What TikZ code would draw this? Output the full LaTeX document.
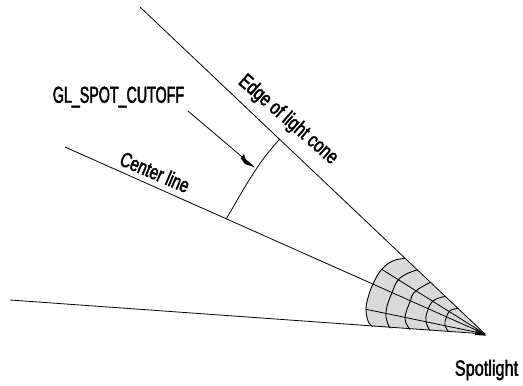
\documentclass[tikz,border=0pt]{standalone}
\usepackage{fontspec}
\newfontfamily\fontcut{Liberation Sans}[FakeStretch=0.62,FakeBold=2]
\newfontfamily\fontedge{Liberation Sans}[FakeStretch=0.74,FakeBold=2]
\newfontfamily\fontcenter{Liberation Sans}[FakeStretch=0.72,FakeBold=2]
\newfontfamily\fontspot{Liberation Sans}[FakeStretch=0.74,FakeBold=2]
\tikzset{
  ray/.style={draw=black,line width=0.8pt},
  web/.style={draw=black,line width=0.9pt},
  lbl/.style={inner sep=0pt}
}
\begin{document}
\begin{tikzpicture}[x=1pt,y=-1pt]
\useasboundingbox (0,0) rectangle (523,386);
\fill[white] (0,0) rectangle (523,386);
\coordinate (apex) at (485,334);
\coordinate (edgeEnd) at (140,7);
\coordinate (centerEnd) at (65,147);
\coordinate (lowerEnd) at (10,300);
\coordinate (cutA) at (226.5,218.5);
\coordinate (cutB) at (279.5,139.5);
\coordinate (arrowStart) at (188,111);
\coordinate (arrowTip) at (254,167);
\fill[gray!30] plot[smooth,tension=0.7] coordinates {(405,258.5) (393.3,260.7) (381.7,269.3) (373.3,283.3) (368.3,296.7) (366,309.3) (368.3,321.7) (372.7,326.5)} -- (apex) -- cycle;
\draw[web] plot[smooth,tension=0.7] coordinates {(405,258.5) (393.3,260.7) (381.7,269.3) (373.3,283.3) (368.3,296.7) (366,309.3) (368.3,321.7) (372.7,326.5)};
\draw[web] plot[smooth,tension=0.7] coordinates {(416.7,270) (400,278) (391.7,293.3) (386,311.7) (388.3,325) (391,328)};
\draw[web] plot[smooth,tension=0.7] coordinates {(430,282.5) (415,291.7) (410,301.7) (405,318.3) (410,329.5)};
\draw[web] plot[smooth,tension=0.7] coordinates {(445,296.5) (433.3,300.7) (427.3,311.7) (426,321.7) (430,330.5)};
\draw[web] plot[smooth,tension=0.7] coordinates {(458.3,308.5) (450,310.7) (446,318.3) (445,325) (448.3,331.5)};
\coordinate (rayA) at (381.7,269.3);
\coordinate (rayB) at (366,309.3);
\draw[ray] (rayA) -- (apex);
\draw[ray] (rayB) -- (apex);
\fill (476,329.3) -- (486.7,335.7) -- (475,335) -- cycle;
\draw[ray] (edgeEnd) -- (apex);
\draw[ray] (centerEnd) -- (apex);
\draw[ray] (lowerEnd) -- (apex);
\draw[ray] (cutA) .. controls (242,192) and (258,162) .. (cutB);
\draw[ray] (arrowStart) -- (arrowTip);
\fill (244,154) -- (245.7,159.3) -- (arrowTip) -- (245,164) -- (240.7,158.3) -- cycle;
\node[lbl,font=\fontcut\fontsize{23}{26}\selectfont] (cutoff) at (118.5,97) {GL\_SPOT\_CUTOFF};
\node[lbl,rotate=-41,font=\fontedge\fontsize{21}{24}\selectfont] (edgeLabel) at (288,120) {Edge of light cone};
\node[lbl,rotate=-23,font=\fontcenter\fontsize{21}{24}\selectfont] (centerLabel) at (155,172) {Center line};
\node[lbl,font=\fontspot\fontsize{22}{25}\selectfont] (spot) at (486.5,370) {Spotlight};
\end{tikzpicture}
\end{document}
